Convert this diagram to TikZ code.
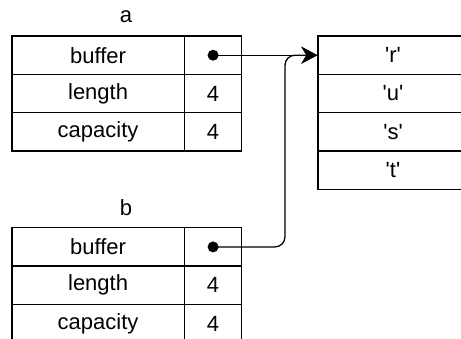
\documentclass[tikz,border=0pt]{standalone}
\usepackage{fontspec}
\setmainfont{Liberation Sans}
\usetikzlibrary{arrows.meta}
\newcommand{\sq}{\textquotesingle}
\begin{document}
\begin{tikzpicture}[x=1pt,y=-1pt,
  cell/.style={draw, line width=1.3pt, inner sep=0pt, minimum height=38.3pt,
    font=\fontsize{22}{26}\selectfont, anchor=center},
  namecell/.style={cell, minimum width=172.5pt},
  valcell/.style={cell, minimum width=57.4pt},
  arrcell/.style={cell, minimum width=150pt},
  lbl/.style={font=\fontsize{22}{26}\selectfont, inner sep=0pt},
  dotnode/.style={circle, fill=black, inner sep=0pt, minimum size=11pt},
  ptr/.style={line width=1.3pt, rounded corners=10pt, -{Stealth[length=16pt,width=17pt,inset=5pt]}}]
\useasboundingbox (0,0) rectangle (461,338);
\clip (0,0) rectangle (461,338);
% table a
\node[lbl] (alab) at (126,17) {a};
\node[namecell] (abuf) at (98.1,55.2) {buffer};
\node[valcell] (abufv) at (213.1,55.2) {};
\node[namecell] (alen) at (98.1,93.5) {length};
\node[valcell] (alenv) at (213.1,93.5) {4};
\node[namecell] (acap) at (98.1,131.8) {capacity};
\node[valcell] (acapv) at (213.1,131.8) {4};
% table b
\node[lbl] (blab) at (126,208) {b};
\node[namecell] (bbuf) at (98.1,246.9) {buffer};
\node[valcell] (bbufv) at (213.1,246.9) {};
\node[namecell] (blen) at (98.1,285.2) {length};
\node[valcell] (blenv) at (213.1,285.2) {4};
\node[namecell] (bcap) at (98.1,323.5) {capacity};
\node[valcell] (bcapv) at (213.1,323.5) {4};
% array
\node[arrcell] (r) at (393,55.2) {\sq r\sq};
\node[arrcell] (u) at (393,93.5) {\sq u\sq};
\node[arrcell] (s) at (393,131.8) {\sq s\sq};
\node[arrcell] (t) at (393,170.1) {\sq t\sq};
% pointers
\node[dotnode] (adot) at (abufv.center) {};
\node[dotnode] (bdot) at (bbufv.center) {};
\coordinate (bend) at (285,0);
\draw[ptr] (adot.center) -- (r.west);
\draw[ptr] (bdot.center) -- (bend |- bdot) -- (bend |- r.west) -- (r.west);
\end{tikzpicture}
\end{document}
